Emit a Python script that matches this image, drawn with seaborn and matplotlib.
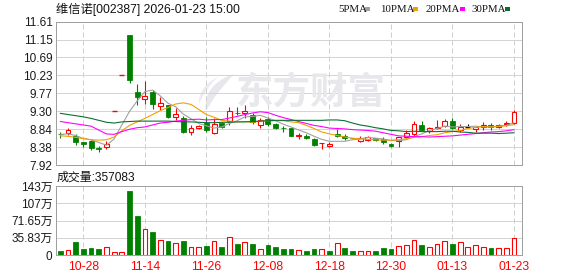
import matplotlib
matplotlib.use("Agg")
import matplotlib.pyplot as plt
from matplotlib.patches import Rectangle, PathPatch
from matplotlib.path import Path
import numpy as np
import pandas as pd
import seaborn as sns

# ---------------- data ----------------
tick_pos = [3, 11, 19, 27, 35, 43, 51, 59]
tick_labels = ["10-28", "11-14", "11-26", "12-08", "12-18", "12-30", "01-13", "01-23"]

open_ = [8.72, 8.75, 8.67, 8.51, 8.54, 8.35, 8.39, 9.32, 10.25, 11.28,
         9.81, 9.63, 9.81, 9.45, 9.46, 9.16, 9.12, 8.77, 8.88, 9.00,
         8.75, 8.99, 9.06, 9.27, 9.27, 9.22, 8.95, 9.10, 8.97, 8.88,
         8.86, 8.66, 8.67, 8.59, 8.48, 8.42, 8.73, 8.67, 8.62, 8.55,
         8.57, 8.61, 8.60, 8.47, 8.54, 8.63, 8.71, 8.94, 8.80, 8.86,
         8.93, 9.05, 8.82, 8.89, 8.84, 8.89, 8.95, 8.90, 8.98, 9.01]
high = [8.78, 8.86, 8.71, 8.52, 8.56, 8.41, 8.53, 9.32, 10.25, 11.28,
        10.01, 10.08, 9.84, 9.67, 9.47, 9.38, 9.18, 8.95, 8.96, 9.15,
        9.14, 9.02, 9.42, 9.41, 9.46, 9.27, 9.12, 9.16, 9.01, 8.92,
        8.88, 8.75, 8.71, 8.62, 8.49, 8.50, 8.85, 8.72, 8.62, 8.67,
        8.67, 8.62, 8.63, 8.49, 8.65, 8.82, 9.06, 9.05, 8.91, 9.08,
        9.10, 9.12, 8.97, 8.97, 8.91, 9.02, 9.00, 8.97, 9.06, 9.34]
low = [8.61, 8.69, 8.43, 8.39, 8.30, 8.25, 8.32, 9.32, 10.25, 10.02,
       9.46, 9.50, 9.35, 9.34, 9.12, 9.08, 8.75, 8.68, 8.85, 8.78,
       8.71, 8.88, 8.95, 9.21, 9.12, 8.97, 8.86, 8.93, 8.84, 8.76,
       8.66, 8.58, 8.58, 8.41, 8.32, 8.39, 8.63, 8.57, 8.60, 8.51,
       8.53, 8.55, 8.47, 8.38, 8.39, 8.61, 8.67, 8.80, 8.75, 8.84,
       8.89, 8.84, 8.78, 8.89, 8.77, 8.83, 8.83, 8.87, 8.92, 8.97]
close = [8.71, 8.82, 8.52, 8.45, 8.37, 8.34, 8.47, 9.32, 10.25, 10.12,
         9.68, 9.70, 9.48, 9.51, 9.16, 9.23, 8.78, 8.87, 8.92, 8.83,
         8.97, 8.91, 9.32, 9.26, 9.32, 9.03, 9.07, 8.98, 8.88, 8.87,
         8.67, 8.68, 8.61, 8.43, 8.49, 8.46, 8.66, 8.62, 8.61, 8.62,
         8.63, 8.57, 8.51, 8.41, 8.63, 8.75, 8.97, 8.82, 8.86, 8.89,
         9.05, 8.86, 8.89, 8.89, 8.90, 8.95, 8.89, 8.95, 8.99, 9.28]
prev_close_first = 8.70

# volume in 万 shares
volume = [8.3, 9.7, 27.0, 12.5, 14.5, 12.5, 16.0, 6.2, 6.2, 133.0,
          81.0, 55.0, 48.0, 30.5, 29.0, 25.0, 29.0, 16.0, 16.0, 18.5,
          28.4, 16.6, 36.7, 22.8, 27.0, 22.8, 11.8, 20.0, 16.6, 12.5,
          12.5, 9.7, 8.3, 12.5, 11.8, 8.3, 24.2, 13.8, 8.3, 8.3,
          8.3, 8.3, 13.8, 12.5, 18.0, 20.0, 30.5, 20.8, 16.0, 22.8,
          29.0, 22.8, 27.0, 16.0, 20.0, 16.0, 13.8, 13.8, 13.8, 35.71]
vol_dir = "GRGGGGRRRGGRGRGRGRRGRGRGRGRGGGGRGGRGRGGRRGGGRRRGRRRGRRRRGRRR"

ma5 = [8.71, 8.72, 8.68, 8.60, 8.57, 8.50, 8.43, 8.59, 8.95, 9.30,
       9.57, 9.81, 9.85, 9.70, 9.51, 9.42, 9.23, 9.11, 8.99, 8.93,
       8.87, 8.90, 8.99, 9.06, 9.16, 9.17, 9.20, 9.13, 9.06, 8.97,
       8.90, 8.82, 8.75, 8.66, 8.58, 8.53, 8.53, 8.53, 8.57, 8.59,
       8.63, 8.61, 8.59, 8.55, 8.55, 8.57, 8.65, 8.72, 8.81, 8.86,
       8.92, 8.90, 8.91, 8.91, 8.92, 8.90, 8.90, 8.92, 8.94, 9.01]
ma10 = [8.67, 8.66, 8.63, 8.60, 8.57, 8.56, 8.57, 8.64, 8.80, 8.94,
        9.03, 9.12, 9.22, 9.32, 9.40, 9.49, 9.52, 9.48, 9.35, 9.22,
        9.15, 9.07, 9.05, 9.03, 9.04, 9.02, 9.05, 9.06, 9.06, 9.06,
        9.03, 9.01, 8.94, 8.86, 8.77, 8.72, 8.68, 8.64, 8.61, 8.59,
        8.58, 8.57, 8.56, 8.56, 8.57, 8.60, 8.63, 8.65, 8.68, 8.70,
        8.75, 8.78, 8.81, 8.86, 8.89, 8.91, 8.90, 8.91, 8.93, 8.96]
ma20 = [9.04, 9.01, 8.98, 8.95, 8.92, 8.82, 8.72, 8.71, 8.78, 8.84,
        8.88, 8.90, 8.95, 9.00, 9.02, 9.05, 9.07, 9.09, 9.10, 9.08,
        9.09, 9.09, 9.13, 9.17, 9.22, 9.26, 9.29, 9.27, 9.20, 9.14,
        9.09, 9.04, 8.99, 8.94, 8.91, 8.87, 8.86, 8.85, 8.83, 8.82,
        8.81, 8.79, 8.75, 8.71, 8.67, 8.66, 8.65, 8.65, 8.64, 8.65,
        8.66, 8.67, 8.69, 8.71, 8.73, 8.75, 8.77, 8.78, 8.80, 8.83]
ma30 = [9.25, 9.22, 9.19, 9.16, 9.12, 9.07, 9.02, 9.00, 9.03, 9.04,
        9.05, 9.05, 9.05, 9.05, 9.05, 9.04, 9.03, 9.03, 9.02, 9.01,
        9.01, 9.02, 9.02, 9.03, 9.03, 9.04, 9.05, 9.06, 9.07, 9.07,
        9.07, 9.07, 9.07, 9.07, 9.07, 9.08, 9.08, 9.06, 9.00, 8.95,
        8.92, 8.88, 8.85, 8.81, 8.80, 8.78, 8.79, 8.78, 8.78, 8.78,
        8.79, 8.79, 8.77, 8.76, 8.74, 8.74, 8.74, 8.73, 8.74, 8.75]

price_ticks = [7.92, 8.38, 8.84, 9.30, 9.77, 10.23, 10.69, 11.15, 11.61]
vol_ticks = [0, 35.83, 71.65, 107.48, 143.31]
vol_tick_labels = ["0", "35.83万", "71.65万", "107万", "143万"]

title_text = "维信诺[002387] 2026-01-23 15:00"
vol_title = "成交量:357083"
ma_names = ["5PMA", "10PMA", "20PMA", "30PMA"]
watermark = "东方财富"

# ---------------- styling ----------------
sns.set_theme(style="white")
plt.rcParams["font.family"] = ["Liberation Sans", "Noto Sans CJK SC", "DejaVu Sans"]

W, H = 578, 276
RED = "#ff0000"
GREEN = "#008000"
BLACK = "#000000"
GRID = "#d4d4d4"
SPINE = "#a0a0a0"
MA_COLORS = ["#a0a0a0", "#f0a000", "#ff00ff", "#0a6e32"]
LW1 = 72.0 / 100.0  # one pixel in points


def fx(x):
    return x / W


def fy(y):
    return 1 - y / H


fig = plt.figure(figsize=(W / 100, H / 100), dpi=100)
fig.patch.set_facecolor("white")

# watermark (behind everything)
fig.text(fx(311), fy(93), watermark, ha="center", va="center", fontsize=27,
         fontweight="bold", color="#e8e8ec", family=["Noto Sans CJK SC"], zorder=0)
leaf = Path([(fx(234), fy(74)), (fx(214), fy(80)), (fx(203), fy(95)), (fx(206), fy(111)),
             (fx(212), fy(100)), (fx(221), fy(88)), (fx(234), fy(74)), (fx(234), fy(74))],
            [Path.MOVETO, Path.CURVE4, Path.CURVE4, Path.CURVE4,
             Path.CURVE4, Path.CURVE4, Path.CURVE4, Path.CLOSEPOLY])
fig.add_artist(PathPatch(leaf, transform=fig.transFigure, facecolor="#e8e8ec",
                         edgecolor="none", zorder=0))
leaf2 = Path([(fx(218), fy(77)), (fx(205), fy(83)), (fx(198), fy(94)), (fx(199), fy(104)),
              (fx(203), fy(95)), (fx(209), fy(85)), (fx(218), fy(77)), (fx(218), fy(77))],
             [Path.MOVETO, Path.CURVE4, Path.CURVE4, Path.CURVE4,
              Path.CURVE4, Path.CURVE4, Path.CURVE4, Path.CLOSEPOLY])
fig.add_artist(PathPatch(leaf2, transform=fig.transFigure, facecolor="#ececf0",
                         edgecolor="none", zorder=0))

ax1 = fig.add_axes([fx(56), fy(165), (522 - 56) / W, (165 - 21.7) / H])
ax2 = fig.add_axes([fx(56), fy(255), (522 - 56) / W, (255 - 186) / H])

n = len(close)
idx = np.arange(n)
xlim = (-0.56, 60.04)

df = pd.DataFrame({"i": idx, "o": open_, "h": high, "l": low, "c": close,
                   "v": volume, "ma5": ma5, "ma10": ma10, "ma20": ma20, "ma30": ma30})

for ax in (ax1, ax2):
    ax.set_xlim(*xlim)
    ax.patch.set_alpha(0)
    for s in ax.spines.values():
        s.set_color(SPINE)
        s.set_linewidth(LW1)
        s.set_zorder(10)
    ax.tick_params(axis="both", length=0)
    for p in tick_pos:
        ax.axvline(p, color="#cfcfcf", lw=LW1, ls=(0, (5, 3)), zorder=1)

# price axes
ax1.set_ylim(price_ticks[0], price_ticks[-1])
ax1.set_yticks(price_ticks)
ax1.set_yticklabels([f"{t:.2f}" for t in price_ticks], fontsize=8.5, color="#1a1a1a")
ax1.tick_params(axis="y", pad=2.5)
ax1.set_xticks([])
for t in price_ticks[1:-1]:
    ax1.axhline(t, color=GRID, lw=LW1, zorder=1)

# candles
bw = 0.64
for i in range(n):
    o, h, l, c = open_[i], high[i], low[i], close[i]
    pc = close[i - 1] if i > 0 else prev_close_first
    if c > o:
        col = RED
    elif c < o:
        col = GREEN
    else:
        col = RED if c > pc else (GREEN if c < pc else BLACK)
    ax1.vlines(i, l, h, color=col, lw=LW1 * 1.1, zorder=3)
    if abs(c - o) < 0.005:
        ax1.hlines(o, i - bw / 2, i + bw / 2, color=col, lw=LW1 * 1.4, zorder=4)
    elif c > o:
        ax1.bar(i, c - o, bottom=o, width=bw, facecolor="white", edgecolor=col,
                linewidth=LW1 * 1.1, zorder=4)
    else:
        ax1.bar(i, o - c, bottom=c, width=bw, facecolor=col, edgecolor=col,
                linewidth=LW1 * 0.8, zorder=4)

# moving averages via seaborn
for name, col in zip(["ma5", "ma10", "ma20", "ma30"], MA_COLORS):
    sns.lineplot(data=df, x="i", y=name, color=col, lw=LW1 * 1.1, ax=ax1, zorder=5,
                 legend=False)
ax1.set_xlabel("")
ax1.set_ylabel("")
ax1.set_xlim(*xlim)

# volume axes
ax2.set_ylim(0, vol_ticks[-1])
ax2.set_yticks(vol_ticks)
ax2.set_yticklabels(vol_tick_labels, fontsize=8.5, color="#1a1a1a")
ax2.tick_params(axis="y", pad=2.5)
for t in vol_ticks[1:-1]:
    ax2.axhline(t, color=GRID, lw=LW1, zorder=1)
ax2.set_xticks(tick_pos)
ax2.set_xticklabels(tick_labels, fontsize=8.8, color=RED)
ax2.tick_params(axis="x", pad=4)

vw = 0.62
for i in range(n):
    if vol_dir[i] == "R":
        ax2.bar(i, volume[i], width=vw, facecolor="white", edgecolor=RED,
                linewidth=LW1 * 1.1, zorder=3)
    else:
        ax2.bar(i, volume[i], width=vw, facecolor=GREEN, edgecolor=GREEN,
                linewidth=LW1 * 0.8, zorder=3)

# header texts
fig.text(fx(56), fy(9), title_text, ha="left", va="center", fontsize=8.8, color="#111111")
fig.text(fx(57), fy(177.5), vol_title, ha="left", va="center", fontsize=8.6, color="#111111")

# legend for moving averages
legend_x = [338.5, 380, 425.7, 471.7]
marker_x = [365.3, 413.3, 460, 505.3]
for name, col, tx, mx in zip(ma_names, MA_COLORS, legend_x, marker_x):
    fig.text(fx(tx), fy(9), name, ha="left", va="center", fontsize=7.8,
             family=["Liberation Serif"], color="#111111")
    fig.add_artist(Rectangle((fx(mx), fy(10.5)), 5 / W, 3 / H, transform=fig.transFigure,
                             facecolor=col, edgecolor="none"))

fig.savefig("out.png", dpi=100, facecolor="white")
